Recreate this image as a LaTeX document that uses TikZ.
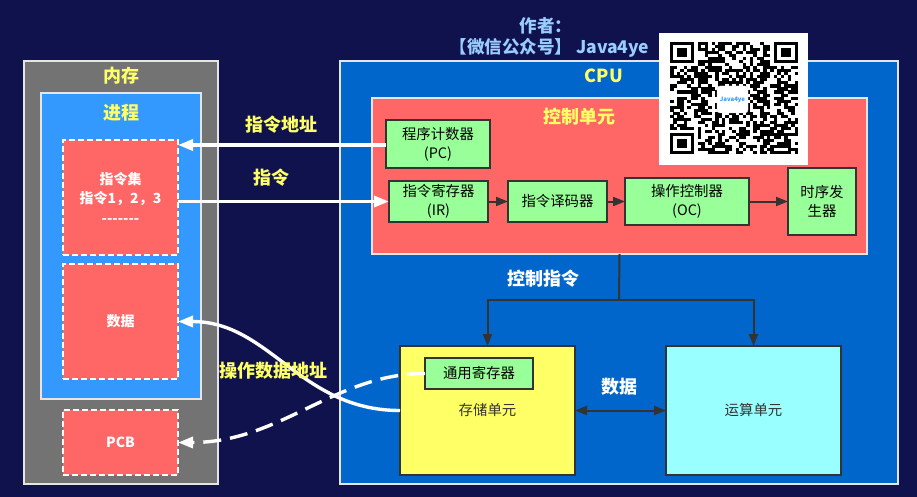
\documentclass[tikz,border=0pt]{standalone}
\usepackage{fontspec}
\setmainfont{Noto Sans CJK SC}
\usetikzlibrary{arrows.meta}
\definecolor{nightbg}{HTML}{0F124C}
\definecolor{memgray}{HTML}{737373}
\definecolor{procblue}{HTML}{3399FF}
\definecolor{cpublue}{HTML}{0066CC}
\definecolor{softred}{HTML}{FF6666}
\definecolor{softgreen}{HTML}{99FF99}
\definecolor{softyellow}{HTML}{FFFF66}
\definecolor{softcyan}{HTML}{99FFFF}
\definecolor{authorblue}{HTML}{99CCFF}
\definecolor{lineink}{HTML}{333333}
\tikzset{
  panel/.style={draw=white!90!black,line width=2pt,inner sep=0pt,outer sep=0pt},
  segment/.style={panel,draw=white,fill=softred,dashed,dash pattern=on 6pt off 3pt,font=\bfseries\fontsize{14}{19}\selectfont,text=white,align=center},
  unit/.style={draw=lineink,line width=2.2pt,inner sep=0pt,outer sep=0pt,fill=softgreen,text=black,align=center,font=\fontsize{14.4}{19}\selectfont},
  yellowtag/.style={text=softyellow,font=\bfseries\fontsize{18}{20}\selectfont,inner sep=0pt},
  whitetag/.style={text=white,font=\bfseries\fontsize{18}{20}\selectfont,inner sep=0pt},
  authortag/.style={text=authorblue,font=\bfseries\fontsize{17.5}{20}\selectfont,inner sep=0pt},
  wire/.style={draw=lineink,line width=2pt,-{Triangle[length=12pt,width=9pt]}},
  bus/.style={draw=white,line width=3.4pt,-{Triangle[length=15pt,width=11pt]}}
}
\begin{document}
\begin{tikzpicture}[x=1pt,y=-1pt]
  \useasboundingbox[fill=nightbg] (0,0) rectangle (917,497);
  % memory side
  \node[panel,fill=memgray,minimum width=194,minimum height=423] (mem) at (121,272.5) {};
  \node[panel,fill=procblue,minimum width=160,minimum height=306] (proc) at (121,246) {};
  \node[segment,minimum width=115,minimum height=115] (instr) at (120.5,197.5)
    {指令集\\指令1，2，3\\[1pt]-{}-{}-{}-{}-{}-{}-};
  \node[segment,minimum width=115,minimum height=115] (data) at (120.5,321.5) {数据};
  \node[segment,minimum width=115,minimum height=65] (pcb) at (120.5,442.5) {PCB};
  \node[yellowtag] (memtag) at (121,76) {内存};
  \node[yellowtag] (proctag) at (121,113) {进程};
  % cpu side
  \node[panel,fill=cpublue,minimum width=558,minimum height=423] (cpu) at (619,272.5) {};
  \node[panel,fill=softred,minimum width=495,minimum height=156] (ctrl) at (619.5,176) {};
  \node[unit,minimum width=104,minimum height=48] (pc) at (438,144) {程序计数器\\(PC)};
  \node[unit,minimum width=99,minimum height=41] (ir) at (438.5,201.5) {指令寄存器\\(IR)};
  \node[unit,minimum width=99,minimum height=41] (decoder) at (557.5,201.5) {指令译码器};
  \node[unit,minimum width=124,minimum height=47] (opctrl) at (687,201.5) {操作控制器\\(OC)};
  \node[unit,minimum width=68,minimum height=67] (timing) at (822,201.5) {时序发\\生器};
  \node[unit,fill=softyellow,minimum width=175,minimum height=129,text=lineink] (storage) at (487.5,410.5) {存储单元};
  \node[unit,fill=softcyan,minimum width=175,minimum height=129,text=lineink] (alu) at (753.5,410.5) {运算单元};
  \node[unit,minimum width=108,minimum height=31] (gpr) at (479,373.5) {通用寄存器};
  \node[yellowtag] (cputag) at (604,76) {CPU};
  \node[yellowtag] (ctrltag) at (579,117) {控制单元};
  % inner wires of the cpu
  \coordinate (branch) at (619,300);
  \draw[wire] (ir) -- (decoder);
  \draw[wire] (decoder) -- (opctrl);
  \draw[wire] (opctrl) -- (timing);
  \draw[wire,-] (ctrl.south) -- (branch);
  \draw[wire] (branch) -| (storage.north);
  \draw[wire] (branch) -| (alu.north);
  \draw[wire,{Triangle[length=12pt,width=9pt]}-{Triangle[length=12pt,width=9pt]}] (storage) -- (alu);
  % links between memory and cpu
  \coordinate (pcport) at (pc.west |- 0,145);
  \draw[bus] (pcport) -- (instr.east |- pcport);
  \draw[bus] (instr.east |- ir.west) -- (ir.west);
  \draw[bus] (storage.west) .. controls +(-100,0) and +(92,0) .. (data.east);
  \draw[bus,dash pattern=on 18pt off 9pt] (gpr.west) .. controls +(-90,0) and +(102,0) .. (pcb.east);
  % qr block, the modules are only a texture
  \node[fill=white,minimum width=149,minimum height=132,inner sep=0pt] (qr) at (733.5,99) {};
  \begin{scope}[shift={(670,42)},x=3.46pt,y=-3.03pt]
    \pgfmathsetseed{4711}
    \foreach \row in {0,...,36}{
      \foreach \col in {0,...,36}{
        \pgfmathrandominteger{\dot}{0}{99}
        \ifnum\dot<52
          \fill[black] (\col,\row) rectangle +(1.02,1.02);
        \fi
      }
    }
    % finder marks
    \foreach \cx/\cy in {0/0,30/0,0/30}{
      \fill[white] (\cx-0.01,\cy-0.01) ++(-1,-1) rectangle +(9,9);
      \fill[black] (\cx,\cy) rectangle +(7,7);
      \fill[white] (\cx+1,\cy+1) rectangle +(5,5);
      \fill[black] (\cx+2,\cy+2) rectangle +(3,3);
    }
  \end{scope}
  \node[fill=white,draw=white!85!black,rounded corners=3pt,minimum width=31,minimum height=27,inner sep=0pt,
    text=procblue,font=\bfseries\fontsize{6}{7}\selectfont] (logo) at (732.5,99.5) {Java4ye};
  % free labels
  \node[yellowtag] (pctag) at (281,125) {指令地址};
  \node[yellowtag] (irtag) at (271,178) {指令};
  \node[yellowtag] (addrtag) at (273,371) {操作数据地址};
  \node[whitetag] (cmdtag) at (543,279) {控制指令};
  \node[whitetag] (datatag) at (619,387) {数据};
  \node[authortag] (author) at (546,26) {作者：};
  \node[authortag] (channel) at (549.5,48) {【微信公众号】 Java4ye};
\end{tikzpicture}
\end{document}
